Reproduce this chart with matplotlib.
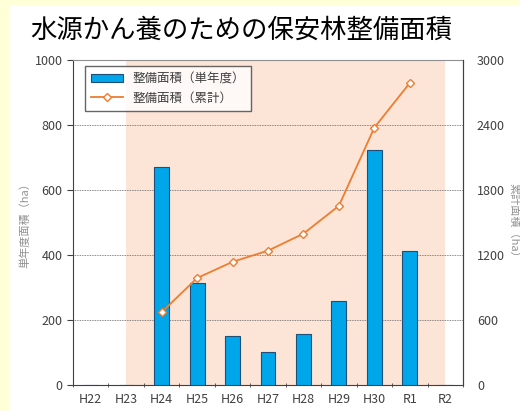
import matplotlib
matplotlib.use("Agg")
import matplotlib.pyplot as plt
from matplotlib.patches import Rectangle

plt.rcParams['font.family'] = ['Noto Sans CJK JP', 'DejaVu Sans']

years = ['H22', 'H23', 'H24', 'H25', 'H26', 'H27', 'H28', 'H29', 'H30', 'R1', 'R2']
single = [0, 0, 672, 315, 150, 103, 157, 257, 722, 412, 0]
cum_years = ['H24', 'H25', 'H26', 'H27', 'H28', 'H29', 'H30', 'R1']
cumulative = [672, 987, 1137, 1240, 1397, 1654, 2376, 2788]

fig = plt.figure(figsize=(5.2, 4.11), dpi=100)
fig.patch.set_facecolor('#FFFFD8')
fig.patches.append(Rectangle((10 / 520, 0), 1, 1 - 5 / 411, transform=fig.transFigure,
                             facecolor='white', edgecolor='none', zorder=-5))

ax = fig.add_axes([73 / 520, 1 - 385 / 411, 390 / 520, 325 / 411])
ax.set_facecolor('white')
x = list(range(len(years)))

# shaded period
ax.axvspan(1, 10, color='#FCE4D6', zorder=0, lw=0)

ax.bar(x, single, width=0.42, color='#00A6EA', edgecolor='#1F4E79', linewidth=0.8,
       zorder=3, label='整備面積（単年度）')
ax.set_xlim(-0.5, 10.5)
ax.set_ylim(0, 1000)
ax.set_yticks([0, 200, 400, 600, 800, 1000])
ax.set_xticks(x)
ax.set_xticklabels(years)
ax.set_xticks([i - 0.5 for i in range(len(years) + 1)], minor=True)
ax.tick_params(axis='x', which='major', length=0, pad=6)
ax.tick_params(axis='x', which='minor', length=3, direction='inout', color='#404040')
ax.tick_params(axis='y', length=4, direction='out', color='#404040')
ax.tick_params(labelsize=9, labelcolor='#404040')
for v in [200, 400, 600, 800]:
    ax.axhline(v, color='#606060', lw=0.6, ls=(0, (1, 1)), zorder=1)
ax.spines['top'].set_color('#909090')
ax.spines['left'].set_color('#404040')
ax.spines['bottom'].set_color('#404040')
ax.spines['right'].set_color('#404040')
ax.set_ylabel('単年度面積（ha）', fontsize=8, color='#909090', labelpad=3)

ax2 = ax.twinx()
cx = [years.index(y) for y in cum_years]
ax2.plot(cx, cumulative, color='#ED7D31', lw=1.3, marker='D', markersize=4.5,
         markerfacecolor='white', markeredgecolor='#ED7D31', markeredgewidth=1.0,
         zorder=4, label='整備面積（累計）')
ax2.set_ylim(0, 3000)
ax2.set_yticks([0, 600, 1200, 1800, 2400, 3000])
ax2.tick_params(axis='y', length=0, pad=10, labelsize=9, labelcolor='#404040')
for s in ['top', 'left', 'bottom']:
    ax2.spines[s].set_visible(False)
ax2.spines['right'].set_color('#404040')
ax2.set_ylabel('累計面積（ha）', fontsize=8, color='#909090', rotation=-90, labelpad=10)

h1, l1 = ax.get_legend_handles_labels()
h2, l2 = ax2.get_legend_handles_labels()
leg = ax2.legend(h1 + h2, l1 + l2, loc='upper left', bbox_to_anchor=(0.015, 1.0),
                 fontsize=9, frameon=True, fancybox=False, edgecolor='#404040',
                 borderpad=0.5, handlelength=2.5, labelcolor='#404040')
leg.get_frame().set_linewidth(1.0)
leg.set_zorder(10)

fig.text(30 / 520, 1 - 30 / 411, '水源かん養のための保安林整備面積', fontsize=19,
         va='center', ha='left', color='black')

fig.savefig('out.png', dpi=100)
